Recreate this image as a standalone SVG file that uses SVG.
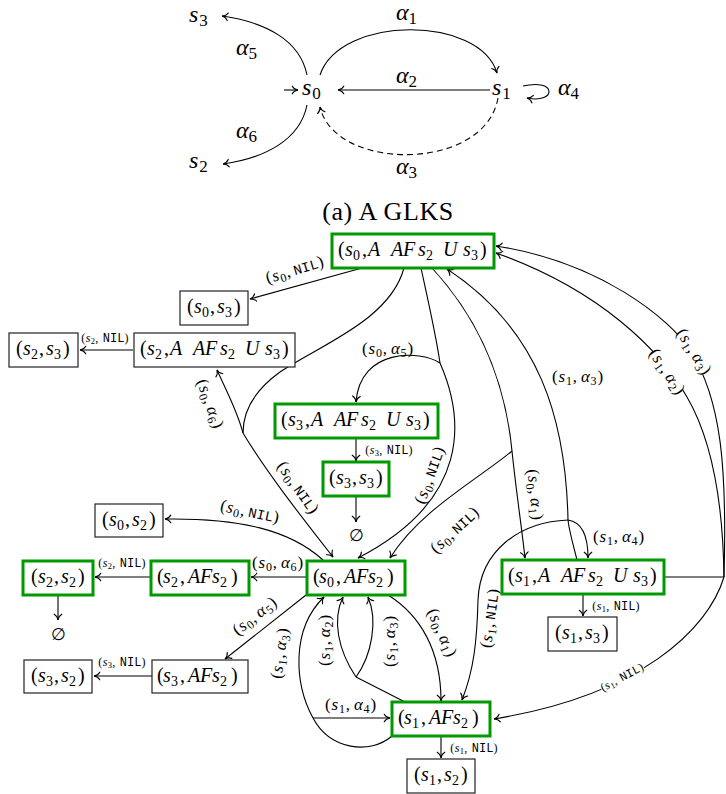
<svg xmlns="http://www.w3.org/2000/svg" width="726" height="794" viewBox="0 0 726 794">
<defs>
<marker id="ar" markerUnits="userSpaceOnUse" viewBox="-7 -5 8 10" refX="0" refY="0" markerWidth="8" markerHeight="10" orient="auto">
<path d="M-5.8,-3.8 C-4.4,-1.4 -1.9,-0.3 0,0 C-1.9,0.3 -4.4,1.4 -5.8,3.8" fill="none" stroke="#000" stroke-width="1.1" stroke-linecap="round"/>
</marker>
<style>
text{font-family:"Liberation Serif","Times New Roman",serif;fill:#000}
.i{font-style:italic}
.n{font-size:20px}
.n .s{font-size:14px}
.g rect{fill:#fff;stroke:#009900;stroke-width:3}
.w rect{fill:#fff;stroke:#222;stroke-width:1.2}
.e path{fill:none;stroke:#000;stroke-width:1.1}
.e .a{marker-end:url(#ar)}
.e .d{stroke-dasharray:6 4}
.l{font-size:17px;text-anchor:middle;letter-spacing:0.8px}
.l .b{font-size:12px}
.l .m{font-family:"Liberation Mono",monospace;font-size:14px;letter-spacing:0}
.k{font-size:12px;text-anchor:middle;letter-spacing:0.4px}
.k .b{font-size:8.5px}
.k .m{font-family:"Liberation Mono",monospace;font-size:12px;letter-spacing:0}
.bg{fill:#fff;stroke:none}
.tl{font-size:24px}
.tl .b{font-size:17px}
.cap{font-size:26px;text-anchor:middle;letter-spacing:0.6px}
.es{font-family:"DejaVu Serif",serif;font-size:17px;text-anchor:middle}
</style>
</defs>

<!-- (a) GLKS -->
<g id="glks">
<g id="q_s3"><text class="tl" x="189" y="22"><tspan class="i">s</tspan><tspan class="b" dy="4" dx="1">3</tspan></text></g>
<g id="q_s0"><text class="tl" x="302" y="95"><tspan class="i">s</tspan><tspan class="b" dy="4" dx="1">0</tspan></text></g>
<g id="q_s1"><text class="tl" x="492" y="95"><tspan class="i">s</tspan><tspan class="b" dy="4" dx="1">1</tspan></text></g>
<g id="q_s2"><text class="tl" x="189" y="168"><tspan class="i">s</tspan><tspan class="b" dy="4" dx="1">2</tspan></text></g>
<g id="glks_edges" class="e">
<path class="a" d="M284,90 L298,90"/>
<path class="a" d="M320,75 C340,15 480,15 497,73"/>
<path class="a" d="M490,90 L338,90"/>
<path class="a d" d="M498,98 C485,172 335,172 320,107"/>
<path class="a" d="M307,75 C300,40 265,22 222,16"/>
<path class="a" d="M307,105 C300,140 265,158 223,164"/>
<path class="a" d="M523,86 C557,78 557,104 527,98"/>
</g>
<text class="tl" x="396" y="20"><tspan class="i">α</tspan><tspan class="b" dy="4">1</tspan></text>
<text class="tl" x="396" y="83"><tspan class="i">α</tspan><tspan class="b" dy="4">2</tspan></text>
<text class="tl" x="396" y="174"><tspan class="i">α</tspan><tspan class="b" dy="4">3</tspan></text>
<text class="tl" x="558" y="95"><tspan class="i">α</tspan><tspan class="b" dy="4">4</tspan></text>
<text class="tl" x="236" y="55"><tspan class="i">α</tspan><tspan class="b" dy="4">5</tspan></text>
<text class="tl" x="236" y="138"><tspan class="i">α</tspan><tspan class="b" dy="4">6</tspan></text>
<text class="cap" x="388" y="220">(a) A GLKS</text>
</g>

<!-- connectors -->
<g id="connectors" class="e">
<path class="a" d="M362,268 L250,299"/>
<path class="a" d="M133,350 L80,350"/>
<path d="M404,268 C390,320 320,345 280,372 C255,390 243,410 243,433"/>
<path class="a" d="M243,433 C237,410 225,388 217,370"/>
<path class="a" d="M243,433 C265,470 300,515 333,557"/>
<path d="M421,268 C428,300 436,335 440,363"/>
<path class="a" d="M440,363 C420,350 360,348 356,402"/>
<path class="a" d="M440,363 C465,420 470,500 358,558"/>
<path d="M432,268 C480,320 505,380 512,451"/>
<path class="a" d="M512,451 C516,490 522,530 525,558"/>
<path class="a" d="M512,451 C480,478 420,510 390,558"/>
<path d="M577,560 C572,540 569,530 568,520"/>
<path class="a" d="M568,520 C566,420 540,330 447,269"/>
<path class="a" d="M568,520 C582,522 588,535 588,558"/>
<path class="a" d="M568,520 C520,522 480,550 478,600 C477,640 474,670 462,700"/>
<path d="M664,577 L724,577"/>
<path class="a" d="M724,577 C727,470 722,400 690,350 C670,319 600,262 496,246"/>
<path class="a" d="M724,577 C723,500 712,440 687,397 C660,350 600,290 496,253"/>
<path class="a" d="M724,577 C708,630 640,695 494,719"/>
<path class="a" d="M307,577 L251,577"/>
<path class="a" d="M151,577 L95,577"/>
<path class="a" d="M58,595 L58,620"/>
<path class="a" d="M323,560 C290,530 240,518 165,519"/>
<path class="a" d="M306,595 L225,659"/>
<path class="a" d="M152,676 L94,676"/>
<path class="a" d="M356,438 L356,461"/>
<path class="a" d="M356,496 L356,522"/>
<path class="a" d="M583,594 L583,616"/>
<path class="a" d="M441,736 L441,758"/>
<path class="a" d="M388,595 C420,615 441,650 441,701"/>
<path d="M405,702 L356,677"/>
<path class="a" d="M356,677 C338,650 332,620 343,597"/>
<path class="a" d="M356,677 C372,655 378,620 368,597"/>
<path d="M392,736 C370,755 330,750 313,718"/>
<path class="a" d="M313,718 C295,685 290,630 324,597"/>
<path class="a" d="M313,718 L390,718"/>
</g>

<!-- edge labels -->
<g id="edge-labels">
<text class="l" transform="translate(295,270) rotate(-17)" y="5">(<tspan class="i">s</tspan><tspan class="b" dy="3">0</tspan><tspan dy="-3">,</tspan><tspan class="m" dx="3">NIL</tspan>)</text>
<text class="k" x="105" y="342">(<tspan class="i">s</tspan><tspan class="b" dy="2">2</tspan><tspan dy="-2">,</tspan><tspan class="m" dx="4">NIL</tspan>)</text>
<text class="l" transform="translate(210,404) rotate(70)" y="5">(<tspan class="i">s</tspan><tspan class="b" dy="3">0</tspan><tspan dy="-3">,</tspan><tspan class="i" dx="3">α</tspan><tspan class="b" dy="3">6</tspan><tspan dy="-3">)</tspan></text>
<text class="l" transform="translate(298,488) rotate(55)" y="5">(<tspan class="i">s</tspan><tspan class="b" dy="3">0</tspan><tspan dy="-3">,</tspan><tspan class="m" dx="3">NIL</tspan>)</text>
<text class="l" x="388" y="354">(<tspan class="i">s</tspan><tspan class="b" dy="3">0</tspan><tspan dy="-3">,</tspan><tspan class="i" dx="3">α</tspan><tspan class="b" dy="3">5</tspan><tspan dy="-3">)</tspan></text>
<text class="l" transform="translate(430,475) rotate(-70)" y="5">(<tspan class="i">s</tspan><tspan class="b" dy="3">0</tspan><tspan dy="-3">,</tspan><tspan class="m" dx="3">NIL</tspan>)</text>
<text class="k" x="389" y="454">(<tspan class="i">s</tspan><tspan class="b" dy="2">3</tspan><tspan dy="-2">,</tspan><tspan class="m" dx="4">NIL</tspan>)</text>
<text class="l" transform="translate(455,530) rotate(-43)" y="5">(<tspan class="i">s</tspan><tspan class="b" dy="3">0</tspan><tspan dy="-3">,</tspan><tspan class="m" dx="3">NIL</tspan>)</text>
<text class="l" transform="translate(535,495) rotate(84)" y="5">(<tspan class="i">s</tspan><tspan class="b" dy="3">0</tspan><tspan dy="-3">,</tspan><tspan class="i" dx="3">α</tspan><tspan class="b" dy="3">1</tspan><tspan dy="-3">)</tspan></text>
<text class="l" x="578" y="382">(<tspan class="i">s</tspan><tspan class="b" dy="3">1</tspan><tspan dy="-3">,</tspan><tspan class="i" dx="3">α</tspan><tspan class="b" dy="3">3</tspan><tspan dy="-3">)</tspan></text>
<text class="l" x="619" y="542">(<tspan class="i">s</tspan><tspan class="b" dy="3">1</tspan><tspan dy="-3">,</tspan><tspan class="i" dx="3">α</tspan><tspan class="b" dy="3">4</tspan><tspan dy="-3">)</tspan></text>
<text class="l" transform="translate(490,618) rotate(-82)" y="5">(<tspan class="i">s</tspan><tspan class="b" dy="3">1</tspan><tspan dy="-3">,</tspan><tspan class="m" dx="3">NIL</tspan>)</text>
<g transform="translate(694,352) rotate(58)"><rect class="bg" x="-24" y="-9" width="48" height="18"/><text class="l" y="5">(<tspan class="i">s</tspan><tspan class="b" dy="3">1</tspan><tspan dy="-3">,</tspan><tspan class="i" dx="3">α</tspan><tspan class="b" dy="3">3</tspan><tspan dy="-3">)</tspan></text></g>
<g transform="translate(667,372) rotate(56)"><rect class="bg" x="-24" y="-9" width="48" height="18"/><text class="l" y="5">(<tspan class="i">s</tspan><tspan class="b" dy="3">1</tspan><tspan dy="-3">,</tspan><tspan class="i" dx="3">α</tspan><tspan class="b" dy="3">2</tspan><tspan dy="-3">)</tspan></text></g>
<g transform="translate(622,677) rotate(-28)"><rect class="bg" x="-24" y="-6" width="48" height="12"/><text class="k" y="4">(<tspan class="i">s</tspan><tspan class="b" dy="2">1</tspan><tspan dy="-2">,</tspan><tspan class="m" dx="4">NIL</tspan>)</text></g>
<text class="k" x="616" y="610">(<tspan class="i">s</tspan><tspan class="b" dy="2">1</tspan><tspan dy="-2">,</tspan><tspan class="m" dx="4">NIL</tspan>)</text>
<text class="l" transform="translate(250,512) rotate(12)" y="5">(<tspan class="i">s</tspan><tspan class="b" dy="3">0</tspan><tspan dy="-3">,</tspan><tspan class="m" dx="3">NIL</tspan>)</text>
<text class="l" x="278" y="568">(<tspan class="i">s</tspan><tspan class="b" dy="3">0</tspan><tspan dy="-3">,</tspan><tspan class="i" dx="3">α</tspan><tspan class="b" dy="3">6</tspan><tspan dy="-3">)</tspan></text>
<text class="k" x="122" y="567">(<tspan class="i">s</tspan><tspan class="b" dy="2">2</tspan><tspan dy="-2">,</tspan><tspan class="m" dx="4">NIL</tspan>)</text>
<text class="l" transform="translate(255,616) rotate(-38)" y="5">(<tspan class="i">s</tspan><tspan class="b" dy="3">0</tspan><tspan dy="-3">,</tspan><tspan class="i" dx="3">α</tspan><tspan class="b" dy="3">5</tspan><tspan dy="-3">)</tspan></text>
<text class="k" x="122" y="666">(<tspan class="i">s</tspan><tspan class="b" dy="2">3</tspan><tspan dy="-2">,</tspan><tspan class="m" dx="4">NIL</tspan>)</text>
<text class="l" transform="translate(280,653) rotate(-82)" y="5">(<tspan class="i">s</tspan><tspan class="b" dy="3">1</tspan><tspan dy="-3">,</tspan><tspan class="i" dx="3">α</tspan><tspan class="b" dy="3">3</tspan><tspan dy="-3">)</tspan></text>
<text class="l" transform="translate(325,640) rotate(-90)" y="5">(<tspan class="i">s</tspan><tspan class="b" dy="3">1</tspan><tspan dy="-3">,</tspan><tspan class="i" dx="3">α</tspan><tspan class="b" dy="3">2</tspan><tspan dy="-3">)</tspan></text>
<text class="l" transform="translate(390,641) rotate(-90)" y="5">(<tspan class="i">s</tspan><tspan class="b" dy="3">1</tspan><tspan dy="-3">,</tspan><tspan class="i" dx="3">α</tspan><tspan class="b" dy="3">3</tspan><tspan dy="-3">)</tspan></text>
<text class="l" transform="translate(442,633) rotate(66)" y="5">(<tspan class="i">s</tspan><tspan class="b" dy="3">0</tspan><tspan dy="-3">,</tspan><tspan class="i" dx="3">α</tspan><tspan class="b" dy="3">1</tspan><tspan dy="-3">)</tspan></text>
<text class="l" x="351" y="710">(<tspan class="i">s</tspan><tspan class="b" dy="3">1</tspan><tspan dy="-3">,</tspan><tspan class="i" dx="3">α</tspan><tspan class="b" dy="3">4</tspan><tspan dy="-3">)</tspan></text>
<text class="k" x="474" y="752">(<tspan class="i">s</tspan><tspan class="b" dy="2">1</tspan><tspan dy="-2">,</tspan><tspan class="m" dx="4">NIL</tspan>)</text>
</g>

<!-- nodes -->
<g id="n_s0_AU" class="g"><rect x="332" y="234" width="162" height="34"/><text class="n" y="256"><tspan x="338">(</tspan><tspan x="345" class="i">s</tspan><tspan x="353" y="260" class="s">0</tspan><tspan x="362" y="256">,</tspan><tspan x="368" class="i">A</tspan><tspan x="391" class="i">A</tspan><tspan x="403" class="i">F</tspan><tspan x="418" class="i">s</tspan><tspan x="426" y="260" class="s">2</tspan><tspan x="443" y="256" class="i">U</tspan><tspan x="463" class="i">s</tspan><tspan x="471" y="260" class="s">3</tspan><tspan x="480" y="256">)</tspan></text></g>

<g id="n_s3_AU" class="g"><rect x="275" y="404" width="163" height="34"/><text class="n" y="426"><tspan x="281">(</tspan><tspan x="288" class="i">s</tspan><tspan x="296" y="430" class="s">3</tspan><tspan x="305" y="426">,</tspan><tspan x="311" class="i">A</tspan><tspan x="334" class="i">A</tspan><tspan x="346" class="i">F</tspan><tspan x="361" class="i">s</tspan><tspan x="369" y="430" class="s">2</tspan><tspan x="386" y="426" class="i">U</tspan><tspan x="406" class="i">s</tspan><tspan x="414" y="430" class="s">3</tspan><tspan x="423" y="426">)</tspan></text></g>

<g id="n_s2_AU" class="w"><rect x="134" y="333" width="161" height="34"/><text class="n" y="355"><tspan x="140">(</tspan><tspan x="147" class="i">s</tspan><tspan x="155" y="359" class="s">2</tspan><tspan x="164" y="355">,</tspan><tspan x="170" class="i">A</tspan><tspan x="193" class="i">A</tspan><tspan x="205" class="i">F</tspan><tspan x="220" class="i">s</tspan><tspan x="228" y="359" class="s">2</tspan><tspan x="245" y="355" class="i">U</tspan><tspan x="265" class="i">s</tspan><tspan x="273" y="359" class="s">3</tspan><tspan x="282" y="355">)</tspan></text></g>

<g id="n_s1_AU" class="g"><rect x="502" y="560" width="162" height="34"/><text class="n" y="582"><tspan x="508">(</tspan><tspan x="515" class="i">s</tspan><tspan x="523" y="586" class="s">1</tspan><tspan x="532" y="582">,</tspan><tspan x="538" class="i">A</tspan><tspan x="561" class="i">A</tspan><tspan x="573" class="i">F</tspan><tspan x="588" class="i">s</tspan><tspan x="596" y="586" class="s">2</tspan><tspan x="613" y="582" class="i">U</tspan><tspan x="633" class="i">s</tspan><tspan x="641" y="586" class="s">3</tspan><tspan x="650" y="582">)</tspan></text></g>

<g id="n_s2_AF" class="g"><rect x="151" y="561" width="98" height="34"/><text class="n" y="583"><tspan x="157">(</tspan><tspan x="163" class="i">s</tspan><tspan x="171" y="587" class="s">2</tspan><tspan x="180" y="583">,</tspan><tspan x="188" class="i">A</tspan><tspan x="200" class="i">F</tspan><tspan x="212" class="i">s</tspan><tspan x="220" y="587" class="s">2</tspan><tspan x="231" y="583">)</tspan></text></g>

<g id="n_s0_AF" class="g"><rect x="307" y="561" width="98" height="34"/><text class="n" y="583"><tspan x="313">(</tspan><tspan x="319" class="i">s</tspan><tspan x="327" y="587" class="s">0</tspan><tspan x="336" y="583">,</tspan><tspan x="344" class="i">A</tspan><tspan x="356" class="i">F</tspan><tspan x="368" class="i">s</tspan><tspan x="376" y="587" class="s">2</tspan><tspan x="387" y="583">)</tspan></text></g>

<g id="n_s3_AF" class="w"><rect x="152" y="660" width="96" height="33"/><text class="n" y="682"><tspan x="157">(</tspan><tspan x="163" class="i">s</tspan><tspan x="171" y="686" class="s">3</tspan><tspan x="180" y="682">,</tspan><tspan x="188" class="i">A</tspan><tspan x="200" class="i">F</tspan><tspan x="212" class="i">s</tspan><tspan x="220" y="686" class="s">2</tspan><tspan x="231" y="682">)</tspan></text></g>

<g id="n_s1_AF" class="g"><rect x="392" y="702" width="98" height="34"/><text class="n" y="724"><tspan x="398">(</tspan><tspan x="404" class="i">s</tspan><tspan x="412" y="728" class="s">1</tspan><tspan x="421" y="724">,</tspan><tspan x="429" class="i">A</tspan><tspan x="441" class="i">F</tspan><tspan x="453" class="i">s</tspan><tspan x="461" y="728" class="s">2</tspan><tspan x="472" y="724">)</tspan></text></g>

<g id="n_s0_s3" class="w"><rect x="180" y="291" width="68" height="34"/><text class="n" y="313"><tspan x="187">(</tspan><tspan x="194" class="i">s</tspan><tspan x="202" y="317" class="s">0</tspan><tspan x="210" y="313">,</tspan><tspan x="217" class="i">s</tspan><tspan x="225" y="317" class="s">3</tspan><tspan x="234" y="313">)</tspan></text></g>

<g id="n_s2_s3" class="w"><rect x="9" y="333" width="69" height="34"/><text class="n" y="355"><tspan x="16">(</tspan><tspan x="23" class="i">s</tspan><tspan x="31" y="359" class="s">2</tspan><tspan x="39" y="355">,</tspan><tspan x="46" class="i">s</tspan><tspan x="54" y="359" class="s">3</tspan><tspan x="63" y="355">)</tspan></text></g>

<g id="n_s3_s3" class="g"><rect x="323" y="462" width="66" height="34"/><text class="n" y="484"><tspan x="329">(</tspan><tspan x="336" class="i">s</tspan><tspan x="344" y="488" class="s">3</tspan><tspan x="352" y="484">,</tspan><tspan x="359" class="i">s</tspan><tspan x="367" y="488" class="s">3</tspan><tspan x="376" y="484">)</tspan></text></g>

<g id="n_s0_s2" class="w"><rect x="95" y="504" width="68" height="33"/><text class="n" y="526"><tspan x="102">(</tspan><tspan x="109" class="i">s</tspan><tspan x="117" y="530" class="s">0</tspan><tspan x="125" y="526">,</tspan><tspan x="132" class="i">s</tspan><tspan x="140" y="530" class="s">2</tspan><tspan x="149" y="526">)</tspan></text></g>

<g id="n_s2_s2" class="g"><rect x="23" y="561" width="70" height="34"/><text class="n" y="583"><tspan x="31">(</tspan><tspan x="38" class="i">s</tspan><tspan x="46" y="587" class="s">2</tspan><tspan x="54" y="583">,</tspan><tspan x="61" class="i">s</tspan><tspan x="69" y="587" class="s">2</tspan><tspan x="78" y="583">)</tspan></text></g>

<g id="n_s3_s2" class="w"><rect x="24" y="660" width="68" height="33"/><text class="n" y="682"><tspan x="31">(</tspan><tspan x="38" class="i">s</tspan><tspan x="46" y="686" class="s">3</tspan><tspan x="54" y="682">,</tspan><tspan x="61" class="i">s</tspan><tspan x="69" y="686" class="s">2</tspan><tspan x="78" y="682">)</tspan></text></g>

<g id="n_s1_s3" class="w"><rect x="548" y="617" width="69" height="34"/><text class="n" y="639"><tspan x="555">(</tspan><tspan x="562" class="i">s</tspan><tspan x="570" y="643" class="s">1</tspan><tspan x="578" y="639">,</tspan><tspan x="585" class="i">s</tspan><tspan x="593" y="643" class="s">3</tspan><tspan x="602" y="639">)</tspan></text></g>

<g id="n_s1_s2" class="w"><rect x="407" y="759" width="68" height="34"/><text class="n" y="781"><tspan x="414">(</tspan><tspan x="421" class="i">s</tspan><tspan x="429" y="785" class="s">1</tspan><tspan x="437" y="781">,</tspan><tspan x="444" class="i">s</tspan><tspan x="452" y="785" class="s">2</tspan><tspan x="461" y="781">)</tspan></text></g>

<g id="n_empty1"><text class="es" x="356" y="541">∅</text></g>
<g id="n_empty2"><text class="es" x="58" y="640">∅</text></g>
</svg>
